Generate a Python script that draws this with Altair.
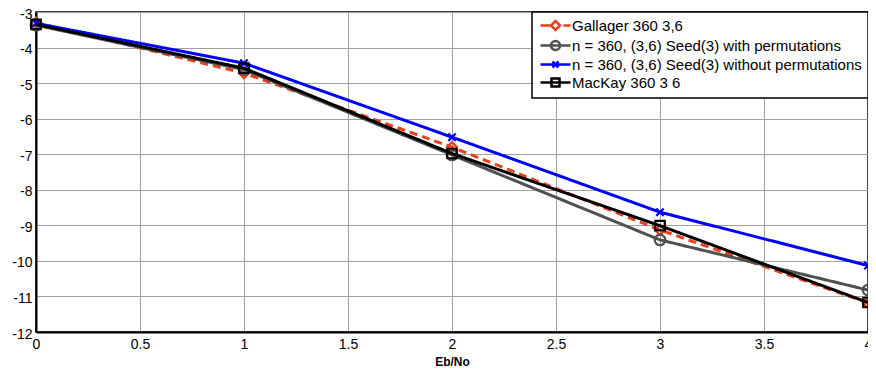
import altair as alt
import pandas as pd

eb_no = [0, 1, 2, 3, 4]
gallager = [-3.30, -4.72, -6.80, -9.13, -11.18]
seed_with = [-3.37, -4.62, -7.02, -9.41, -10.82]
seed_without = [-3.32, -4.44, -6.52, -8.63, -10.13]
mackay = [-3.35, -4.58, -6.98, -9.01, -11.17]

names = [
    "Gallager 360 3,6",
    "n = 360, (3,6) Seed(3) with permutations",
    "n = 360, (3,6) Seed(3) without permutations",
    "MacKay 360 3 6",
]
series_values = [gallager, seed_with, seed_without, mackay]
colors = ["#e8401c", "#505050", "#0000ff", "#000000"]
dashes = [[8, 5], [1, 0], [1, 0], [1, 0]]
marker_shapes = ["diamond", "circle", "M-1,-1L1,1M-1,1L1,-1", "square"]
marker_sizes = [100, 110, 55, 90]
line_widths = [3, 3, 3, 3]

# legend symbols: line + marker
legend_paths = [
    "M-1,0H1.1M2,-0.9L2.9,0L2,0.9L1.1,0ZM3.6,0H5",
    "M-1,0H5M2.9,0A0.9,0.9 0 1,1 1.1,0A0.9,0.9 0 1,1 2.9,0",
    "M-1,0H5M1.4,-0.6L2.6,0.6M1.4,0.6L2.6,-0.6",
    "M-1,0H5M1.2,-0.8H2.8V0.8H1.2Z",
]

rows = []
for name, vals in zip(names, series_values):
    for x, y in zip(eb_no, vals):
        rows.append({"series": name, "ebno": x, "ber": y})
df = pd.DataFrame(rows)

FONT = "Liberation Sans"

x_enc = alt.X(
    "ebno:Q",
    scale=alt.Scale(domain=[0, 4], nice=False),
    axis=alt.Axis(
        title="Eb/No",
        values=[0, 0.5, 1, 1.5, 2, 2.5, 3, 3.5, 4],
        labelExpr="datum.value + ''",
        ticks=False,
        labelPadding=5,
        titlePadding=5,
        titleFontWeight="bold",
        titleFontSize=12,
        labelFontSize=14,
        labelFlush=False,
    ),
)
y_enc = alt.Y(
    "ber:Q",
    scale=alt.Scale(domain=[-12, -3], nice=False),
    axis=alt.Axis(
        title=None,
        values=list(range(-12, -2)),
        labelExpr="datum.value + ''",
        ticks=False,
        labelPadding=4,
        labelOffset=2,
        labelFontSize=14,
        labelFlush=False,
    ),
)

base = alt.Chart(df)
layers = []
for i, name in enumerate(names):
    sub = base.transform_filter(alt.datum.series == name)
    layers.append(
        sub.mark_line(
            color=colors[i], strokeWidth=line_widths[i], strokeDash=dashes[i]
        ).encode(x=x_enc, y=y_enc)
    )
    layers.append(
        sub.mark_point(
            shape=marker_shapes[i],
            color=colors[i],
            size=marker_sizes[i],
            strokeWidth=2.2,
            filled=False,
            opacity=1,
        ).encode(x=x_enc, y=y_enc)
    )

legend = alt.Legend(
    title=None,
    orient="top-right",
    offset=0,
    strokeColor="black",
    fillColor="white",
    padding=6,
    labelFont=FONT,
    labelFontSize=15,
    labelOffset=19,
    symbolSize=100,
    symbolStrokeWidth=2.5,
    rowPadding=0,
    labelLimit=400,
)
legend_layer = base.mark_point(opacity=0, filled=False).encode(
    x=x_enc,
    y=y_enc,
    color=alt.Color(
        "series:N", scale=alt.Scale(domain=names, range=colors), legend=legend
    ),
    shape=alt.Shape(
        "series:N", scale=alt.Scale(domain=names, range=legend_paths), legend=legend
    ),
)
layers.append(legend_layer)

chart = (
    alt.layer(*layers)
    .properties(
        width=832,
        height=320,
        autosize=alt.AutoSizeParams(type="none"),
        padding={"left": 28, "top": 4, "right": 0, "bottom": 37},
        background="white",
    )
    .configure_view(stroke="black", strokeWidth=1.5)
    .configure_axis(
        grid=True,
        gridColor="#a0a0a0",
        gridWidth=1,
        domainColor="black",
        domainWidth=2,
        labelColor="black",
        titleColor="black",
        labelFont=FONT,
        titleFont=FONT,
    )
    .configure_legend(symbolOpacity=1, strokeWidth=1.5)
)

chart.save("out.html", embed_options={"renderer": "svg", "actions": False})
